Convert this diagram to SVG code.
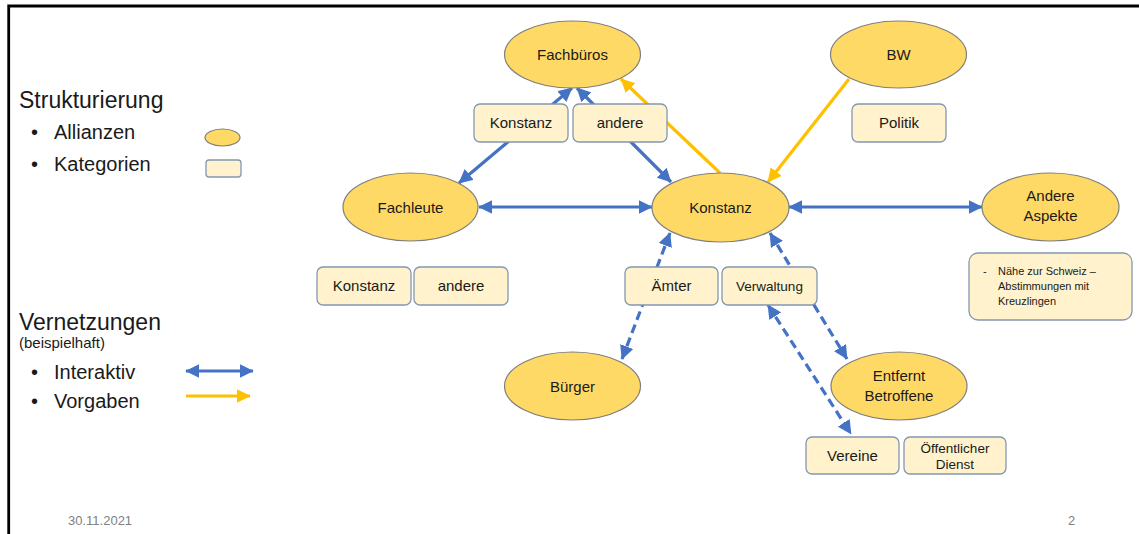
<svg xmlns="http://www.w3.org/2000/svg" width="1139" height="534" viewBox="0 0 1139 534">
<style>
  text { font-family: "Liberation Sans", Arial, sans-serif; fill: #1a1a1a; }
  .ell { fill: #FFD966; stroke: #7f7f7f; stroke-width: 1.2; }
  .box { fill: #FFF2CC; stroke: #8497B0; stroke-width: 1.3; }
  .lbl { font-size: 15px; text-anchor: middle; }
  .blue { stroke: #4472C4; stroke-width: 3.2; fill: none; }
  .orange { stroke: #FFC000; stroke-width: 3.2; fill: none; }
  .dash { stroke-dasharray: 9 5; }
  .h1 { font-size: 23px; }
  .bul { font-size: 20px; }
  .foot { font-size: 13px; fill: #808080; }
</style>
<defs>
  <marker id="ab" viewBox="0 0 10 10" markerWidth="14" markerHeight="14" refX="9.5" refY="5" orient="auto-start-reverse" markerUnits="userSpaceOnUse">
    <path d="M0,0 L10,5 L0,10 z" fill="#4472C4"/>
  </marker>
  <marker id="ao" viewBox="0 0 10 10" markerWidth="14" markerHeight="14" refX="9.5" refY="5" orient="auto-start-reverse" markerUnits="userSpaceOnUse">
    <path d="M0,0 L10,5 L0,10 z" fill="#FFC000"/>
  </marker>
</defs>
<rect width="1139" height="534" fill="#ffffff"/>
<path d="M8.7,534 V6 H1139" fill="none" stroke="#000" stroke-width="2.8"/>

<g id="legend">
  <text x="19" y="108" class="h1">Strukturierung</text>
  <text x="31" y="139" class="bul">•</text>
  <text x="54" y="139" class="bul">Allianzen</text>
  <text x="31" y="171" class="bul">•</text>
  <text x="54" y="171" class="bul">Kategorien</text>
  <ellipse cx="222.5" cy="137.5" rx="17.5" ry="8.5" class="ell"/>
  <rect x="206" y="160" width="35" height="17" rx="3" class="box"/>
  <text x="19" y="330" class="h1">Vernetzungen</text>
  <text x="19" y="348" style="font-size:15px">(beispielhaft)</text>
  <text x="31" y="379" class="bul">•</text>
  <text x="54" y="379" class="bul">Interaktiv</text>
  <text x="31" y="408" class="bul">•</text>
  <text x="54" y="408" class="bul">Vorgaben</text>
  <line x1="186" y1="371" x2="253" y2="371" class="blue" marker-start="url(#ab)" marker-end="url(#ab)"/>
  <line x1="186" y1="396" x2="250" y2="396" class="orange" marker-end="url(#ao)"/>
</g>

<g id="connectors">
  <line x1="479" y1="207" x2="652" y2="207" class="blue" marker-start="url(#ab)" marker-end="url(#ab)"/>
  <line x1="572" y1="88" x2="459" y2="183" class="blue" marker-start="url(#ab)" marker-end="url(#ab)"/>
  <line x1="577" y1="88" x2="671" y2="182" class="blue" marker-start="url(#ab)" marker-end="url(#ab)"/>
  <line x1="789" y1="207" x2="982" y2="207" class="blue" marker-start="url(#ab)" marker-end="url(#ab)"/>
  <line x1="720" y1="173" x2="621" y2="79" class="orange" marker-end="url(#ao)"/>
  <line x1="849" y1="79" x2="768" y2="182" class="orange" marker-end="url(#ao)"/>
  <line x1="670" y1="233" x2="622" y2="359" class="blue dash" marker-start="url(#ab)" marker-end="url(#ab)"/>
  <line x1="770" y1="233" x2="847" y2="359" class="blue dash" marker-start="url(#ab)" marker-end="url(#ab)"/>
  <line x1="768" y1="305" x2="851" y2="434" class="blue dash" marker-start="url(#ab)" marker-end="url(#ab)"/>
</g>

<g id="fachbueros"><ellipse cx="572.5" cy="54.5" rx="68" ry="33.5" class="ell"/><text x="572.5" y="60" class="lbl">Fachbüros</text></g>
<g id="bw"><ellipse cx="898.5" cy="54.5" rx="68" ry="33.5" class="ell"/><text x="898.5" y="60" class="lbl">BW</text></g>
<g id="fachleute"><ellipse cx="410.5" cy="207" rx="67.5" ry="34" class="ell"/><text x="410.5" y="212.5" class="lbl">Fachleute</text></g>
<g id="konstanz"><ellipse cx="720.5" cy="207.5" rx="68.5" ry="34.5" class="ell"/><text x="720.5" y="213" class="lbl">Konstanz</text></g>
<g id="andere-aspekte"><ellipse cx="1050.5" cy="207" rx="68.5" ry="34" class="ell"/><text x="1050.5" y="201" class="lbl">Andere</text><text x="1050.5" y="221" class="lbl">Aspekte</text></g>
<g id="buerger"><ellipse cx="572.5" cy="386" rx="68" ry="34" class="ell"/><text x="572.5" y="391.5" class="lbl">Bürger</text></g>
<g id="entfernt"><ellipse cx="899" cy="386" rx="68" ry="34" class="ell"/><text x="899" y="381" class="lbl">Entfernt</text><text x="899" y="401" class="lbl">Betroffene</text></g>

<g id="kat-fachbueros-konstanz"><rect x="474" y="104" width="94" height="38" rx="6" class="box"/><text x="521" y="128" class="lbl">Konstanz</text></g>
<g id="kat-fachbueros-andere"><rect x="573" y="104" width="94" height="38" rx="6" class="box"/><text x="620" y="128" class="lbl">andere</text></g>
<g id="kat-politik"><rect x="852" y="104" width="94" height="38" rx="6" class="box"/><text x="899" y="128" class="lbl">Politik</text></g>
<g id="kat-fachleute-konstanz"><rect x="317" y="267" width="94" height="38" rx="6" class="box"/><text x="364" y="291" class="lbl">Konstanz</text></g>
<g id="kat-fachleute-andere"><rect x="414" y="267" width="94" height="38" rx="6" class="box"/><text x="461" y="291" class="lbl">andere</text></g>
<g id="kat-aemter"><rect x="625" y="267" width="93" height="38" rx="6" class="box"/><text x="671.5" y="291" class="lbl">Ämter</text></g>
<g id="kat-verwaltung"><rect x="722" y="267" width="95" height="38" rx="6" class="box"/><text x="769.5" y="291" class="lbl" style="font-size:13.5px">Verwaltung</text></g>
<g id="note"><rect x="969" y="253" width="163" height="67" rx="9" class="box"/>
  <text x="983" y="275" style="font-size:11px">-</text>
  <text x="998" y="275" style="font-size:11px">Nähe zur Schweiz –</text>
  <text x="998" y="290" style="font-size:11px">Abstimmungen mit</text>
  <text x="998" y="305" style="font-size:11px">Kreuzlingen</text>
</g>
<g id="kat-vereine"><rect x="806" y="437" width="93" height="37" rx="6" class="box"/><text x="852.5" y="461" class="lbl">Vereine</text></g>
<g id="kat-oeffentlich"><rect x="904" y="437" width="102" height="37" rx="6" class="box"/><text x="955" y="453" class="lbl" style="font-size:13.5px">Öffentlicher</text><text x="955" y="469" class="lbl" style="font-size:13.5px">Dienst</text></g>

<text x="68" y="525" class="foot">30.11.2021</text>
<text x="1068" y="525" class="foot">2</text>
</svg>
